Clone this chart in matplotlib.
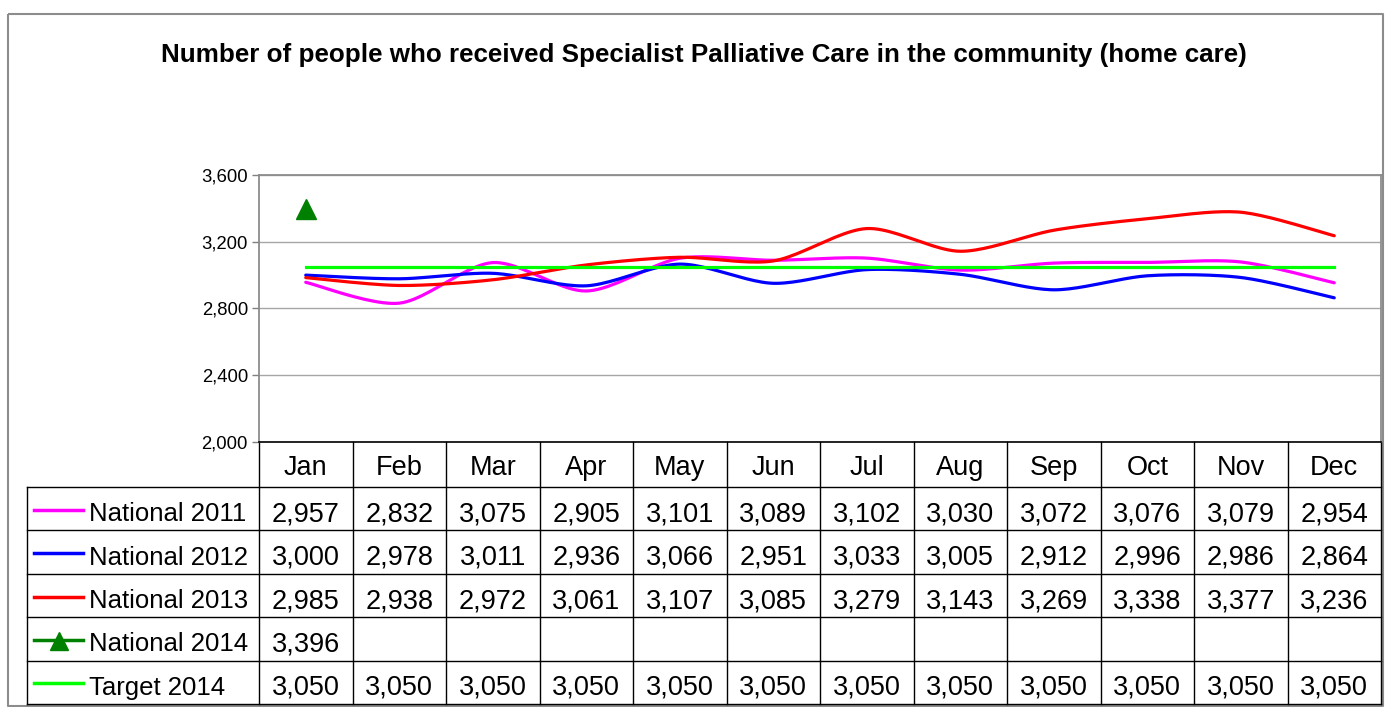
import numpy as np
import matplotlib
matplotlib.use("Agg")
import matplotlib.pyplot as plt
from matplotlib.ticker import FuncFormatter, FixedLocator

plt.rcParams['font.family'] = ['Liberation Sans', 'DejaVu Sans']

months = ["Jan", "Feb", "Mar", "Apr", "May", "Jun", "Jul", "Aug", "Sep", "Oct", "Nov", "Dec"]
national_2011 = [2957, 2832, 3075, 2905, 3101, 3089, 3102, 3030, 3072, 3076, 3079, 2954]
national_2012 = [3000, 2978, 3011, 2936, 3066, 2951, 3033, 3005, 2912, 2996, 2986, 2864]
national_2013 = [2985, 2938, 2972, 3061, 3107, 3085, 3279, 3143, 3269, 3338, 3377, 3236]
national_2014 = [3396]
target_2014 = [3050] * 12
series_names = ["National 2011", "National 2012", "National 2013", "National 2014", "Target 2014"]
y_ticks = [2000, 2400, 2800, 3200, 3600]
title = "Number of people who received Specialist Palliative Care in the community (home care)"

W, H = 1385, 707
fig = plt.figure(figsize=(W / 100, H / 100), dpi=100)


def smooth(xs, ys, n=24, k=7.0):
    """Bezier smoothing through the points (like a spreadsheet smoothed line)."""
    xs = np.asarray(xs, float)
    ys = np.asarray(ys, float)
    if len(xs) < 3:
        return xs, ys
    P = np.column_stack([xs, ys])
    Pe = np.vstack([P[0], P, P[-1]])
    out = []
    t = np.linspace(0, 1, n)[:, None]
    for i in range(1, len(Pe) - 2):
        p0, p1, p2, p3 = Pe[i - 1], Pe[i], Pe[i + 1], Pe[i + 2]
        c1 = p1 + (p2 - p0) / k
        c2 = p2 - (p3 - p1) / k
        seg = ((1 - t) ** 3) * p1 + 3 * ((1 - t) ** 2) * t * c1 + 3 * (1 - t) * t ** 2 * c2 + t ** 3 * p2
        out.append(seg if i == 1 else seg[1:])
    out = np.vstack(out)
    return out[:, 0], out[:, 1]


# pixel-coordinate overlay for frame and table
ov = fig.add_axes([0, 0, 1, 1], zorder=0)
ov.set_xlim(0, W)
ov.set_ylim(H, 0)
ov.axis("off")

# outer chart border
ov.plot([8, 1383, 1383, 8, 8], [14, 14, 706, 706, 14], color="#8c8c8c", lw=1.5, solid_capstyle="butt")

# title
ov.text(704, 55, title, ha="center", va="center", fontsize=18.7, fontweight="bold")

# plot area geometry (pixels)
pl, pr, pt, pb = 259, 1381, 175, 442
ax = fig.add_axes([pl / W, 1 - pb / H, (pr - pl) / W, (pb - pt) / H], zorder=2)
ax.set_facecolor("none")
ax.set_xlim(-0.5, len(months) - 0.5)
ax.set_ylim(y_ticks[0], y_ticks[-1])
ax.yaxis.set_major_locator(FixedLocator(y_ticks))
ax.yaxis.set_major_formatter(FuncFormatter(lambda v, p: f"{v:,.0f}"))
ax.set_xticks([])
ax.tick_params(axis="y", length=5, width=1, color="#808080", labelsize=13.3, pad=3)
for s in ["left", "top", "right"]:
    ax.spines[s].set_color("#8c8c8c")
    ax.spines[s].set_linewidth(1.3)
ax.spines["bottom"].set_color("black")
ax.spines["bottom"].set_linewidth(1.2)
ax.grid(axis="y", color="#a6a6a6", lw=1)
ax.set_axisbelow(True)

x = np.arange(len(months))
colors = ["#ff00ff", "#0000ff", "#ff0000", "#008000", "#00ff00"]
for vals, c in [(national_2011, colors[0]), (national_2012, colors[1]), (national_2013, colors[2])]:
    sx, sy = smooth(x, vals)
    ax.plot(sx, sy, color=c, lw=2.3, solid_capstyle="round")
ax.plot(x, target_2014, color=colors[4], lw=2.3)
ax.plot(x[:len(national_2014)], national_2014, color=colors[3], lw=2.3, marker="^", ms=14, linestyle="-")

# table
col_w = (pr - pl) / len(months)
tab_left = 27
hdr_top, hdr_bot = pb, 487
row_h = (704 - hdr_bot) / 5
rows_y = [hdr_bot + i * row_h for i in range(6)]
lc = "black"
lw = 1.0
for yy in rows_y:
    ov.plot([tab_left, pr], [yy, yy], color=lc, lw=lw)
for j in range(len(months) + 1):
    xx = pl + j * col_w
    ov.plot([xx, xx], [hdr_top, rows_y[-1]], color=lc, lw=lw)
ov.plot([tab_left, tab_left], [hdr_bot, rows_y[-1]], color=lc, lw=lw)

fs = 19.5
for j, m in enumerate(months):
    ov.text(pl + (j + 0.5) * col_w, 475, m, ha="center", va="baseline", fontsize=fs)

all_rows = [national_2011, national_2012, national_2013, national_2014, target_2014]
for i, (name, vals) in enumerate(zip(series_names, all_rows)):
    yc = (rows_y[i] + rows_y[i + 1]) / 2
    yb = yc + 12.5
    ov.plot([34, 83], [yc + 1, yc + 1], color=colors[i], lw=2.5)
    if i == 3:
        ov.plot([58.5], [yc + 2], marker="^", color=colors[i], ms=13)
    ov.text(89, yb, name, ha="left", va="baseline", fontsize=18.5)
    for j, v in enumerate(vals):
        ov.text(pl + (j + 0.5) * col_w, yb, f"{v:,}", ha="center", va="baseline", fontsize=fs)

fig.savefig("out.png", dpi=100)
